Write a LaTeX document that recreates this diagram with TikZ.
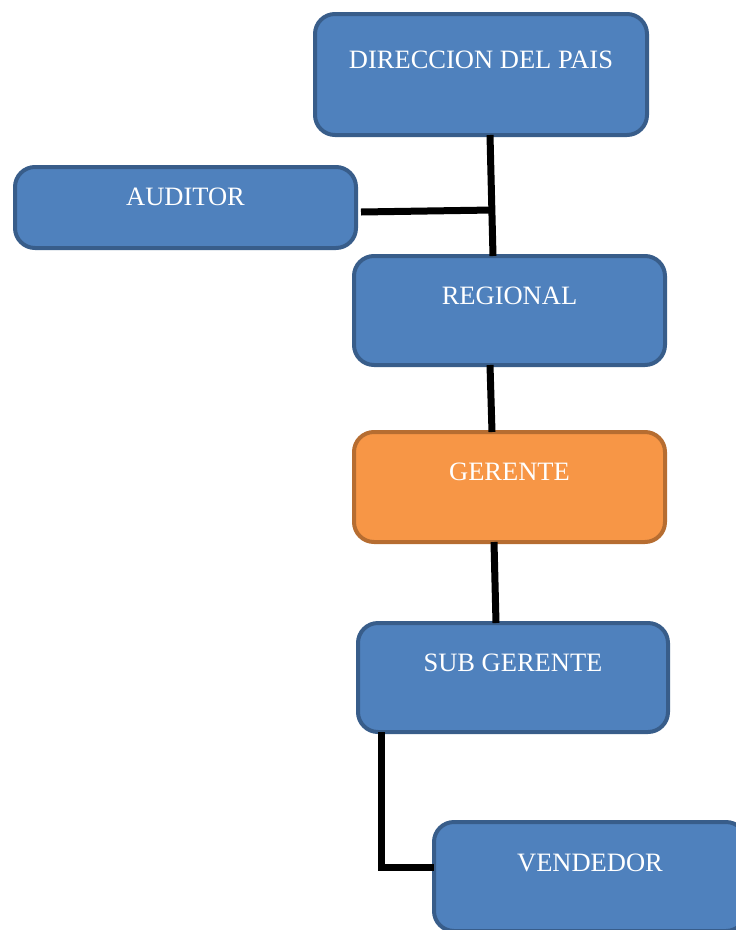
\documentclass[tikz,border=0pt]{standalone}
\usepackage{fontspec}
\setmainfont{Liberation Serif}
\usepackage{xcolor}
\usepackage{tikz}
\usetikzlibrary{calc}

\definecolor{boxblue}{HTML}{4F81BD}
\definecolor{boxblueedge}{HTML}{385D8A}
\definecolor{boxorange}{HTML}{F79646}
\definecolor{boxorangeedge}{HTML}{B66D31}

\begin{document}
\begin{tikzpicture}[x=1pt, y=-1pt,
  box/.style={draw=boxblueedge, fill=boxblue, line width=4pt, rounded corners=20pt,
    text=white, font=\fontsize{26.5}{30}\selectfont, text height=17.5pt,
    inner sep=0pt, outer sep=0pt},
  orangebox/.style={box, draw=boxorangeedge, fill=boxorange},
  link/.style={line width=7pt, black, line join=miter}]

\clip (0,0) rectangle (736,930);

% Boxes
\node[box, minimum width=332pt, minimum height=121pt, text depth=30pt] (dir) at (481,74.5) {DIRECCION DEL PAIS};
\node[box, minimum width=341pt, minimum height=81pt, text depth=21pt] (aud) at (185.5,207.5) {AUDITOR};
\node[box, minimum width=311pt, minimum height=109pt, text depth=29pt] (reg) at (509.5,310.5) {REGIONAL};
\node[orangebox, minimum width=311pt, minimum height=110pt, text depth=30pt] (ger) at (509.5,487) {GERENTE};
\node[box, minimum width=310pt, minimum height=109pt, text depth=29pt] (sub) at (513,677.5) {SUB GERENTE};
\node[box, minimum width=312pt, minimum height=109pt, text depth=27pt] (vend) at (590,876.5) {VENDEDOR};

% Connectors
\coordinate (j) at ($([xshift=9pt]dir.south)!0.62!([xshift=-16.5pt]reg.north)$);
\draw[link] ([xshift=9pt]dir.south) -- ([xshift=-16.5pt]reg.north);
\draw[link] ([xshift=5pt, yshift=-4.5pt]aud.east) -- (j);
\draw[link] ([xshift=-19.5pt]reg.south) -- ([xshift=-17.5pt]ger.north);
\draw[link] ([xshift=-15.5pt]ger.south) -- ([xshift=-17pt]sub.north);
\draw[link] ([xshift=23.5pt]sub.south west) |- ([yshift=9.5pt]vend.west);

\end{tikzpicture}
\end{document}
